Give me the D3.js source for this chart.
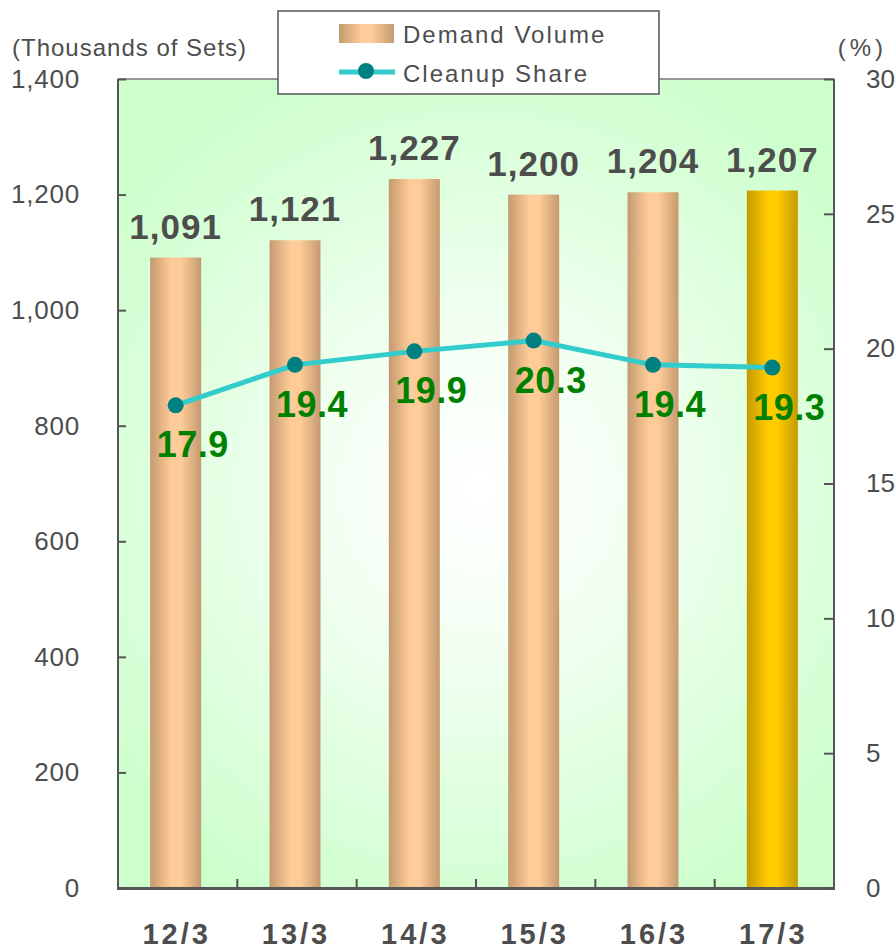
<!DOCTYPE html>
<html><head><meta charset="utf-8">
<script src="https://cdn.jsdelivr.net/npm/d3@7"></script>
<style>
html,body{margin:0;padding:0;background:#fff;}
svg{display:block;font-family:"Liberation Sans",Arial,sans-serif;}
</style></head>
<body>
<svg id="chart" width="895" height="952"></svg>
<script>
const categories = ["12/3","13/3","14/3","15/3","16/3","17/3"];
const demandVolume = [1091,1121,1227,1200,1204,1207];
const cleanupShare = [17.9,19.4,19.9,20.3,19.4,19.3];
const leftTicks = [0,200,400,600,800,1000,1200,1400];
const rightTicks = [0,5,10,15,20,25,30];
const seriesNames = ["Demand Volume","Cleanup Share"];
const leftAxisTitle = "(Thousands of Sets)";
const rightAxisTitle = "(%)";

const svg = d3.select("#chart");
const L = 118, R = 834, T = 79, B = 888;
const textCol = "#4d4d4d";

const x = d3.scaleBand().domain(categories).range([L - 2, R - 2]);
const yL = d3.scaleLinear().domain([0,1400]).range([B, T]);
const yR = d3.scaleLinear().domain([0,30]).range([B, T]);

const defs = svg.append("defs");
const bg = defs.append("radialGradient").attr("id","bg")
  .attr("gradientUnits","userSpaceOnUse").attr("cx",480).attr("cy",490).attr("r",470);
bg.append("stop").attr("offset","0%").attr("stop-color","#ffffff");
bg.append("stop").attr("offset","30%").attr("stop-color","#f4fff4");
bg.append("stop").attr("offset","100%").attr("stop-color","#ccffcc");

function barGrad(id, dark, light){
  const g = defs.append("linearGradient").attr("id",id).attr("x1","0%").attr("x2","100%").attr("y1","0%").attr("y2","0%");
  g.append("stop").attr("offset","0%").attr("stop-color",dark);
  g.append("stop").attr("offset","42%").attr("stop-color",light);
  g.append("stop").attr("offset","60%").attr("stop-color",light);
  g.append("stop").attr("offset","100%").attr("stop-color",dark);
}
barGrad("barTan","#c49a70","#ffcc99");
barGrad("barGold","#c49a00","#ffcc00");

// plot background
svg.append("rect").attr("x",L).attr("y",T).attr("width",R-L).attr("height",B-T).attr("fill","url(#bg)");

// bars
const bw = 51;
svg.append("g").selectAll("rect").data(demandVolume).join("rect")
  .attr("x",(d,i)=>x(categories[i]) + x.bandwidth()/2 - bw/2)
  .attr("y",d=>yL(d))
  .attr("width",bw)
  .attr("height",d=>B - yL(d))
  .attr("fill",(d,i)=> i===categories.length-1 ? "url(#barGold)" : "url(#barTan)");

// bar labels
svg.append("g").selectAll("text").data(demandVolume).join("text")
  .attr("x",(d,i)=>x(categories[i]) + x.bandwidth()/2)
  .attr("y",d=>yL(d) - 19)
  .attr("text-anchor","middle")
  .attr("font-size",35).attr("font-weight","bold").attr("letter-spacing",1)
  .attr("fill",textCol)
  .text(d=>d3.format(",")(d));

// line
const cx = (i)=> x(categories[i]) + x.bandwidth()/2;
const line = d3.line().x((d,i)=>cx(i)).y(d=>yR(d));
svg.append("path").datum(cleanupShare).attr("d",line)
  .attr("fill","none").attr("stroke","#33cccc").attr("stroke-width",5);
svg.append("g").selectAll("circle").data(cleanupShare).join("circle")
  .attr("cx",(d,i)=>cx(i)).attr("cy",d=>yR(d)).attr("r",8).attr("fill","#008080");
svg.append("g").selectAll("text").data(cleanupShare).join("text")
  .attr("x",(d,i)=>cx(i) + 17)
  .attr("y",d=>yR(d) + 52)
  .attr("text-anchor","middle")
  .attr("font-size",36).attr("font-weight","bold").attr("letter-spacing",0.5)
  .attr("fill","#008000")
  .text(d=>d.toFixed(1));

// frame
svg.append("line").attr("x1",L).attr("x2",R).attr("y1",T).attr("y2",T).attr("stroke","#777").attr("stroke-width",1.5);
svg.append("line").attr("x1",L).attr("x2",L).attr("y1",T).attr("y2",B).attr("stroke","#555").attr("stroke-width",2);
svg.append("line").attr("x1",R).attr("x2",R).attr("y1",T).attr("y2",B).attr("stroke","#555").attr("stroke-width",2);
svg.append("line").attr("x1",L-1).attr("x2",R+1).attr("y1",B+0.5).attr("y2",B+0.5).attr("stroke","#555").attr("stroke-width",3);

// left axis
const axL = svg.append("g").attr("transform",`translate(${L},0)`)
  .call(d3.axisLeft(yL).tickValues(leftTicks).tickSize(-8).tickPadding(38).tickFormat(d3.format(",")));
axL.select(".domain").remove();
axL.selectAll(".tick line").attr("stroke","#555").attr("stroke-width",2);
axL.selectAll(".tick text").attr("font-size",26).attr("letter-spacing",0.8).attr("fill",textCol).attr("font-family","'Liberation Sans',Arial,sans-serif");

// right axis
const axR = svg.append("g").attr("transform",`translate(${R},0)`)
  .call(d3.axisRight(yR).tickValues(rightTicks).tickSize(-10).tickPadding(32));
axR.select(".domain").remove();
axR.selectAll(".tick line").attr("stroke","#555").attr("stroke-width",2);
axR.selectAll(".tick text").attr("font-size",26).attr("fill",textCol).attr("font-family","'Liberation Sans',Arial,sans-serif");

// bottom axis (inward ticks between categories)
const xt = d3.scaleBand().domain(categories).range([L, R]);
svg.append("g").selectAll("line").data(categories.slice(1)).join("line")
  .attr("x1",d=>xt(d)).attr("x2",d=>xt(d)).attr("y1",B).attr("y2",B-9)
  .attr("stroke","#555").attr("stroke-width",2);
svg.append("g").selectAll("text").data(categories).join("text")
  .attr("x",d=>x(d) + x.bandwidth()/2 + 1)
  .attr("y",944)
  .attr("text-anchor","middle")
  .attr("font-size",29).attr("font-weight","bold").attr("letter-spacing",3)
  .attr("fill",textCol)
  .text(d=>d);

// axis titles
svg.append("text").attr("x",12).attr("y",56).attr("font-size",24).attr("letter-spacing",1).attr("fill",textCol).text(leftAxisTitle);
svg.append("text").attr("x",887).attr("y",56).attr("text-anchor","end").attr("font-size",24).attr("letter-spacing",4).attr("fill",textCol).text(rightAxisTitle);

// legend
const lg = svg.append("g");
lg.append("rect").attr("x",278).attr("y",11).attr("width",381).attr("height",83)
  .attr("fill","#fff").attr("stroke","#555").attr("stroke-width",1.5);
lg.append("rect").attr("x",339).attr("y",24).attr("width",55).attr("height",19).attr("fill","url(#barTan)");
lg.append("line").attr("x1",339).attr("x2",395).attr("y1",72).attr("y2",72).attr("stroke","#33cccc").attr("stroke-width",5);
lg.append("circle").attr("cx",366).attr("cy",71).attr("r",8).attr("fill","#008080");
lg.append("text").attr("x",403).attr("y",43).attr("font-size",24).attr("letter-spacing",2).attr("fill",textCol).text(seriesNames[0]);
lg.append("text").attr("x",403).attr("y",82).attr("font-size",24).attr("letter-spacing",2).attr("fill",textCol).text(seriesNames[1]);
</script>
</body></html>
